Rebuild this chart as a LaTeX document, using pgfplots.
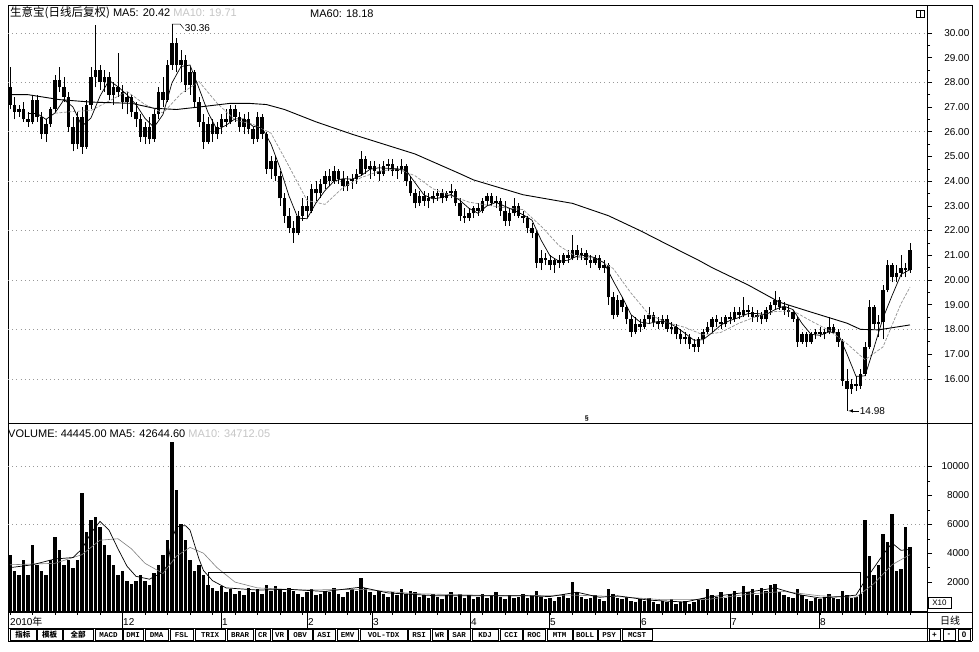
\documentclass[border=0pt]{standalone}
\usepackage{pgfplots}
\pgfplotsset{compat=1.18}
\usepackage{pgfplotstable}
\usepackage{fontspec}
\setmainfont{Liberation Sans}
\newfontfamily\cjk{Noto Sans CJK SC}
\newfontfamily\tabfont{Liberation Mono}

\pgfplotstableread{
i o h l c
0 27.8 28.6 26.9 27.1
1 27.1 27.4 26.5 26.8
2 26.8 27.1 26.6 26.9
3 26.9 27.2 26.4 26.5
4 26.5 26.8 26.2 26.4
5 26.4 27.5 26.3 27.3
6 27.3 27.5 26.4 26.6
7 26.6 26.8 25.7 25.9
8 25.9 26.5 25.6 26.3
9 26.3 27.0 26.2 26.9
10 26.9 28.3 26.8 28.1
11 28.1 28.6 27.6 27.8
12 27.8 28.2 27.2 27.4
13 27.4 27.6 26.0 26.2
14 26.2 26.6 25.2 25.5
15 25.5 26.8 25.3 26.6
16 26.6 27.0 25.1 25.4
17 25.4 27.3 25.3 27.1
18 27.1 28.6 26.9 28.2
19 28.2 30.3 27.8 28.5
20 28.5 28.7 27.7 28.0
21 28.0 28.5 27.6 28.2
22 28.2 28.4 27.3 27.5
23 27.5 28.0 27.1 27.8
24 27.8 29.2 27.4 27.6
25 27.6 27.9 26.9 27.2
26 27.2 27.6 26.7 27.4
27 27.4 27.5 26.6 26.8
28 26.8 27.2 26.2 26.5
29 26.5 26.7 25.6 25.8
30 25.8 26.4 25.5 26.2
31 26.2 26.6 25.5 25.7
32 25.7 26.9 25.6 26.7
33 26.7 27.8 26.5 27.6
34 27.6 28.2 27.0 27.3
35 27.3 28.9 27.2 28.7
36 28.7 30.36 28.5 29.6
37 29.6 29.8 28.4 28.7
38 28.7 29.3 28.0 28.9
39 28.9 29.1 27.6 27.9
40 27.9 28.6 27.5 28.4
41 28.4 28.5 27.0 27.2
42 27.2 27.4 26.2 26.4
43 26.4 26.7 25.3 25.6
44 25.6 26.6 25.5 26.3
45 26.3 26.5 25.6 25.9
46 25.9 26.4 25.7 26.2
47 26.2 26.7 25.9 26.5
48 26.5 26.9 26.2 26.4
49 26.4 27.1 26.3 26.9
50 26.9 27.1 26.4 26.6
51 26.6 26.8 26.0 26.2
52 26.2 26.7 25.9 26.5
53 26.5 26.8 25.9 26.1
54 26.1 26.2 25.5 25.7
55 25.7 26.8 25.6 26.6
56 26.6 26.7 25.7 25.9
57 25.9 26.0 24.3 24.5
58 24.5 25.0 24.1 24.8
59 24.8 25.0 24.0 24.2
60 24.2 24.4 23.0 23.3
61 23.3 23.5 22.3 22.6
62 22.6 22.9 21.9 22.1
63 22.1 22.4 21.5 21.9
64 21.9 22.8 21.8 22.6
65 22.6 23.3 22.4 23.0
66 23.0 23.4 22.5 22.8
67 22.8 23.9 22.7 23.7
68 23.7 24.0 23.2 23.5
69 23.5 24.1 23.3 23.9
70 23.9 24.4 23.7 24.2
71 24.2 24.5 23.8 24.0
72 24.0 24.6 23.9 24.4
73 24.4 24.5 23.9 24.1
74 24.1 24.4 23.6 23.8
75 23.8 24.2 23.6 24.0
76 24.0 24.3 23.7 24.1
77 24.1 24.5 23.9 24.3
78 24.3 25.2 24.2 24.9
79 24.9 25.0 24.3 24.5
80 24.5 24.8 24.1 24.6
81 24.6 24.8 24.2 24.4
82 24.4 24.7 24.0 24.3
83 24.3 24.8 24.2 24.6
84 24.6 24.9 24.4 24.7
85 24.7 24.9 24.2 24.4
86 24.4 24.6 24.1 24.5
87 24.5 24.9 24.3 24.6
88 24.6 24.7 23.8 24.0
89 24.0 24.2 23.4 23.5
90 23.5 23.7 22.9 23.1
91 23.1 23.6 23.0 23.4
92 23.4 23.6 23.0 23.2
93 23.2 23.5 22.9 23.3
94 23.3 23.6 23.1 23.4
95 23.4 23.7 23.2 23.5
96 23.5 23.7 23.1 23.3
97 23.3 23.6 23.2 23.5
98 23.5 23.9 23.3 23.6
99 23.6 23.7 23.0 23.1
100 23.1 23.3 22.4 22.6
101 22.6 22.9 22.3 22.5
102 22.5 22.9 22.4 22.7
103 22.7 23.0 22.5 22.9
104 22.9 23.1 22.6 22.8
105 22.8 23.3 22.7 23.2
106 23.2 23.5 23.0 23.4
107 23.4 23.5 23.0 23.1
108 23.1 23.4 22.9 23.2
109 23.2 23.3 22.6 22.8
110 22.8 23.2 22.2 22.4
111 22.4 22.9 22.2 22.7
112 22.7 23.3 22.6 23.0
113 23.0 23.1 22.5 22.6
114 22.6 22.8 22.3 22.5
115 22.5 22.6 21.9 22.1
116 22.1 22.3 21.7 21.9
117 21.9 22.0 20.5 20.7
118 20.7 21.2 20.4 20.9
119 20.9 21.1 20.6 20.8
120 20.8 21.0 20.4 20.6
121 20.6 20.9 20.3 20.8
122 20.8 21.0 20.5 20.7
123 20.7 21.1 20.6 21.0
124 21.0 21.2 20.7 20.9
125 20.9 21.8 20.8 21.2
126 21.2 21.4 20.8 21.0
127 21.0 21.3 20.8 21.1
128 21.1 21.2 20.6 20.8
129 20.8 21.0 20.5 20.7
130 20.7 21.0 20.6 20.9
131 20.9 21.0 20.4 20.5
132 20.5 20.8 20.3 20.6
133 20.6 20.7 19.0 19.3
134 19.3 19.5 18.4 18.6
135 18.6 19.4 18.5 19.2
136 19.2 19.3 18.7 18.9
137 18.9 19.0 18.2 18.4
138 18.4 18.6 17.7 17.9
139 17.9 18.5 17.8 18.2
140 18.2 18.4 17.9 18.1
141 18.1 18.6 18.0 18.4
142 18.4 18.9 18.2 18.6
143 18.6 18.7 18.1 18.3
144 18.3 18.5 18.0 18.2
145 18.2 18.6 18.1 18.4
146 18.4 18.6 17.9 18.0
147 18.0 18.3 17.8 18.1
148 18.1 18.2 17.6 17.8
149 17.8 18.0 17.4 17.6
150 17.6 17.9 17.4 17.7
151 17.7 17.8 17.2 17.4
152 17.4 17.6 17.1 17.3
153 17.3 17.7 17.1 17.6
154 17.6 18.0 17.4 17.9
155 17.9 18.3 17.8 18.1
156 18.1 18.5 17.9 18.4
157 18.4 18.6 18.1 18.3
158 18.3 18.5 18.0 18.2
159 18.2 18.6 18.1 18.5
160 18.5 18.7 18.2 18.4
161 18.4 18.9 18.3 18.7
162 18.7 18.9 18.4 18.6
163 18.6 19.3 18.5 18.8
164 18.8 19.0 18.5 18.7
165 18.7 18.9 18.3 18.5
166 18.5 18.8 18.3 18.6
167 18.6 18.7 18.2 18.4
168 18.4 18.9 18.3 18.8
169 18.8 19.1 18.6 19.0
170 19.0 19.55 18.8 19.2
171 19.2 19.3 18.8 18.9
172 18.9 19.1 18.6 18.8
173 18.8 19.0 18.5 18.7
174 18.7 18.8 18.3 18.4
175 18.4 18.5 17.3 17.5
176 17.5 17.9 17.4 17.8
177 17.8 17.9 17.3 17.5
178 17.5 17.9 17.4 17.8
179 17.8 18.0 17.6 17.9
180 17.9 18.1 17.7 17.8
181 17.8 18.0 17.6 17.9
182 17.9 18.5 17.8 18.1
183 18.1 18.2 17.8 17.9
184 17.9 18.0 17.3 17.5
185 17.5 17.6 15.7 15.9
186 15.9 16.4 14.98 15.6
187 15.6 16.0 15.4 15.8
188 15.8 16.1 15.5 15.7
189 15.7 16.4 15.6 16.2
190 16.2 17.5 16.1 17.3
191 17.3 19.2 17.2 18.9
192 18.9 19.0 18.0 18.2
193 18.2 18.6 17.7 18.3
194 18.3 19.8 17.6 19.6
195 19.6 20.8 19.5 20.6
196 20.6 20.7 19.9 20.1
197 20.1 20.6 19.9 20.3
198 20.3 21.0 20.1 20.5
199 20.5 20.7 20.1 20.4
200 20.4 21.5 20.3 21.2
}\price

\pgfplotstableread{
i v
0 3900
1 2800
2 2500
3 3500
4 2500
5 4600
6 3200
7 2800
8 2500
9 3500
10 5100
11 4200
12 3200
13 3500
14 3000
15 3500
16 8200
17 5500
18 6300
19 6500
20 5800
21 4600
22 3900
23 3200
24 2500
25 2800
26 2100
27 1900
28 2100
29 2500
30 2100
31 1800
32 2600
33 3200
34 3900
35 4900
36 11700
37 8400
38 6000
39 4900
40 3500
41 2800
42 3200
43 2500
44 1800
45 1600
46 1400
47 1700
48 1300
49 1500
50 1200
51 1400
52 1100
53 1600
54 1300
55 1500
56 1200
57 1800
58 1400
59 1700
60 1500
61 1300
62 1600
63 1400
64 1200
65 1000
66 1300
67 1500
68 1100
69 1200
70 1400
71 1300
72 1600
73 1200
74 1000
75 1300
76 1500
77 1400
78 2300
79 1600
80 1300
81 1100
82 1400
83 1200
84 1000
85 1300
86 1100
87 1500
88 1200
89 1400
90 1300
91 1000
92 1100
93 900
94 1200
95 1000
96 800
97 1100
98 1300
99 1000
100 1200
101 900
102 1100
103 800
104 1000
105 1200
106 900
107 1100
108 1300
109 1000
110 800
111 1100
112 900
113 1000
114 1200
115 900
116 1100
117 1400
118 1000
119 800
120 900
121 700
122 1000
123 1200
124 900
125 2000
126 1300
127 1000
128 800
129 900
130 1100
131 800
132 700
133 1500
134 1200
135 900
136 800
137 1000
138 700
139 600
140 800
141 700
142 900
143 600
144 500
145 700
146 600
147 800
148 500
149 600
150 700
151 500
152 600
153 800
154 900
155 1500
156 1100
157 1000
158 1300
159 900
160 1200
161 1400
162 1000
163 1700
164 1300
165 1500
166 1100
167 1600
168 1400
169 1800
170 1900
171 1300
172 1100
173 1000
174 900
175 1500
176 1100
177 800
178 700
179 900
180 800
181 1000
182 1200
183 900
184 800
185 1400
186 1100
187 900
188 1000
189 1200
190 6300
191 3800
192 2500
193 3200
194 5300
195 4800
196 6700
197 2800
198 2900
199 5800
200 4444.5
}\vol

\pgfplotsset{
  panel/.style={
    scale only axis, width=919pt,
    xmin=-0.444, xmax=203.78, xtick=\empty,
    ytick pos=right, yticklabel pos=right,
    minor y tick num=1, tick align=outside,
    major tick length=5pt, minor tick length=3pt,
    tick style={black, line width=0.5pt},
    yticklabel style={font=\fontsize{10}{12}\selectfont, anchor=east, inner sep=0pt, xshift=37.5pt},
    major grid style={gray!80, line width=0.5pt, dash pattern=on 0.7pt off 3.5pt},
    axis line style={black, line width=0.7pt},
  }
}

\begin{document}
\begin{tikzpicture}
\useasboundingbox (0pt,0pt) rectangle (979pt,651pt);
\fill[white] (0pt,0pt) rectangle (979pt,651pt);

% ---------------- price panel ----------------
\begin{axis}[panel,
  at={(8pt,228pt)}, anchor=south west, height=418pt,
  ymin=14.21, ymax=31.13,
  ytick={16,17,...,30},
  yticklabel={\pgfmathprintnumber[fixed,fixed zerofill,precision=2,assume math mode=true]{\tick}},
  extra y ticks={16,18,...,30}, extra y tick labels={},
  extra y tick style={grid=major, major tick length=0pt},
]
\addplot[draw=none, mark=none, forget plot,
  error bars/.cd, y dir=plus, y explicit, error mark=none,
  error bar style={line width=0.9pt, draw=black, solid}]
  table[x=i, y=l, y error expr=\thisrow{h}-\thisrow{l}] {\price};
\addplot[draw=none, mark=none, forget plot,
  error bars/.cd, y dir=plus, y explicit, error mark=none,
  error bar style={line width=3.3pt, draw=black, solid}]
  table[x=i, y expr={min(\thisrow{o},\thisrow{c})}, y error expr={max(abs(\thisrow{c}-\thisrow{o}),0.07)}] {\price};
% MA10
\addplot[gray!85, line width=0.7pt, dash pattern=on 3pt off 1.5pt] coordinates {
(10,26.75)(14,26.82)(18,26.86)(22,27.24)(26,27.63)(30,27.1)(34,26.76)(38,27.54)(42,28.03)(46,27.16)(50,26.47)(54,26.3)(58,25.94)(62,24.6)(66,23.22)(70,23.06)(74,23.74)(78,24.14)(82,24.4)(86,24.5)(90,24.22)(94,23.69)(98,23.41)(102,23.15)(106,23.03)(110,22.92)(114,22.85)(118,22.18)(122,21.39)(126,20.92)(130,20.89)(134,20.47)(138,19.47)(142,18.6)(146,18.28)(150,18.08)(154,17.78)(158,17.88)(162,18.25)(166,18.53)(170,18.72)(174,18.75)(178,18.34)(182,17.96)(186,17.42)(190,16.77)(194,17.29)(198,19.04)(200,19.71)};
% MA5
\addplot[black, line width=0.7pt] coordinates {
(4,26.74)(6,26.74)(8,26.5)(10,26.76)(12,27.3)(14,27.0)(16,26.22)(18,26.56)(20,27.44)(22,28.08)(24,27.82)(26,27.5)(28,27.1)(30,26.54)(32,26.18)(34,26.7)(36,27.98)(38,28.64)(40,28.7)(42,27.76)(44,26.78)(46,26.08)(48,26.26)(50,26.52)(52,26.52)(54,26.22)(56,26.16)(58,25.5)(60,24.54)(62,23.4)(64,22.5)(66,22.48)(68,23.12)(70,23.62)(72,24.0)(74,24.1)(76,24.08)(78,24.22)(80,24.48)(82,24.54)(84,24.52)(86,24.5)(88,24.44)(90,23.94)(92,23.44)(94,23.28)(96,23.34)(98,23.46)(100,23.22)(102,22.9)(104,22.7)(106,23.0)(108,23.14)(110,22.98)(112,22.82)(114,22.64)(116,22.42)(118,21.62)(120,20.98)(122,20.76)(124,20.8)(126,20.96)(128,21.0)(130,20.9)(132,20.7)(134,19.98)(136,19.32)(138,18.6)(140,18.3)(142,18.24)(144,18.32)(146,18.3)(148,18.1)(150,17.84)(152,17.56)(154,17.58)(156,17.86)(158,18.18)(160,18.36)(162,18.48)(164,18.64)(166,18.64)(168,18.6)(170,18.8)(172,18.94)(174,18.8)(176,18.24)(178,17.8)(180,17.76)(182,17.9)(184,17.84)(186,17.0)(188,16.1)(190,16.12)(192,17.26)(194,18.46)(196,19.36)(198,20.22)(200,20.42)};
% MA60
\addplot[black, line width=0.9pt] coordinates {
(0,27.5)(4,27.5)(11,27.3)(18,27.2)(27,27.15)(32,26.95)(37,26.9)(42,27.0)(49,27.15)(53,27.15)(57,27.1)(61,26.9)(68,26.4)(76,25.9)(83,25.5)(90,25.1)(100,24.3)(103,24.05)(114,23.45)(125,23.1)(133,22.6)(140,22.0)(147,21.35)(153,20.8)(156,20.5)(164,19.8)(171,19.1)(178,18.7)(186,18.25)(189,18.0)(193,17.98)(200,18.18)};
% annotations
\draw[line width=0.5pt] (axis cs:36,30.36) -- (axis cs:37.8,30.36) -- (axis cs:38.6,30.18)
  node[anchor=west, inner sep=1pt, font=\fontsize{10}{12}\selectfont] {30.36};
\draw[line width=0.6pt] (axis cs:186,14.98) -- (axis cs:186,14.70);
\draw[line width=0.6pt, -latex] (axis cs:188.6,14.70) -- (axis cs:186.3,14.70);
\node[anchor=west, inner sep=1pt, font=\fontsize{10}{12}\selectfont] at (axis cs:188.6,14.70) {14.98};
\node[inner sep=0pt, font=\fontsize{7}{8}\selectfont\bfseries] at (axis cs:128.2,14.4) {§};
\end{axis}

% ---------------- volume panel ----------------
\begin{axis}[panel,
  at={(8pt,40pt)}, anchor=south west, height=188pt,
  ymin=0, ymax=13010,
  ytick={2000,4000,...,10000},
  scaled y ticks=false,
  yticklabel={\pgfmathprintnumber[fixed,precision=0,set thousands separator={},assume math mode=true]{\tick}},
  extra y ticks={6000,10000}, extra y tick labels={},
  extra y tick style={grid=major, major tick length=0pt},
]
\addplot[ycomb, black, line width=3.2pt, mark=none, forget plot] table[x=i, y=v] {\vol};
% volume MA10
\addplot[gray, line width=0.6pt] coordinates {
(0,3200)(10,3300)(16,3900)(20,4900)(24,5000)(27,4300)(30,3300)(34,2600)(37,3800)(40,4400)(43,4000)(46,3000)(50,2000)(55,1600)(65,1450)(78,1500)(90,1200)(110,1050)(125,1100)(135,1000)(145,780)(155,800)(165,1200)(172,1350)(180,1050)(188,950)(192,1900)(196,3200)(200,3900)};
% volume MA5
\addplot[black, line width=0.7pt] coordinates {
(0,3000)(5,3200)(10,3600)(14,3700)(16,4300)(18,5400)(20,6200)(22,5600)(24,4300)(26,3100)(28,2400)(31,2200)(34,2700)(35,3200)(36,5000)(37,5800)(38,5900)(39,5900)(40,5600)(41,4600)(42,3600)(43,2800)(45,2100)(48,1600)(55,1450)(62,1500)(70,1350)(78,1650)(84,1250)(95,1050)(105,1050)(115,1050)(120,1000)(126,1300)(131,950)(135,1050)(142,750)(150,620)(155,950)(160,1150)(165,1350)(170,1600)(175,1150)(180,900)(185,1000)(188,1100)(190,2100)(192,3000)(194,3900)(196,4700)(198,4200)(200,4264)};
\draw[line width=0.6pt] (axis cs:44,0) -- (axis cs:44,2650) -- (axis cs:189,2650) -- (axis cs:189,0);
\end{axis}

% ---------------- frame and decorations ----------------
\draw[line width=0.7pt] (927pt,646pt) -- (972pt,646pt) -- (972pt,10pt);
\draw[line width=0.7pt] (927pt,228pt) -- (972pt,228pt);
\draw[line width=0.7pt] (8pt,39pt) -- (972pt,39pt);
\draw[line width=0.7pt] (8pt,23pt) -- (972pt,23pt);
\draw[line width=0.7pt] (8pt,39pt) -- (8pt,10pt) -- (972pt,10pt);
\draw[line width=0.7pt] (927pt,39pt) -- (927pt,10pt);

% titles
\node[anchor=base west, inner sep=0pt, font=\fontsize{11}{13}\selectfont] at (10pt,634pt)
  {{\cjk\fontsize{11.5}{13}\selectfont 生意宝(日线后复权)} MA5: 20.42 \textcolor{gray!45}{MA10: 19.71}};
\node[anchor=base west, inner sep=0pt, font=\fontsize{11}{13}\selectfont] at (310pt,633pt) {MA60: 18.18};
\draw[line width=0.7pt] (916pt,641pt) rectangle (924pt,634pt);
\draw[line width=0.5pt] (920pt,641pt) -- (920pt,634pt);
\node[anchor=base west, inner sep=0pt, font=\fontsize{11}{13}\selectfont] at (8pt,214pt)
  {VOLUME: 44445.00 MA5: 42644.60 \textcolor{gray!45}{MA10: 34712.05}};

% X10 box
\draw[line width=0.5pt] (928pt,54pt) rectangle (951pt,43pt);
\node[font=\fontsize{8}{9}\selectfont, inner sep=0pt] at (939.5pt,48.5pt) {X10};

% date row
\node[anchor=base west, inner sep=0pt, font=\fontsize{10}{12}\selectfont] at (10pt,26pt) {2010{\cjk 年}};
\foreach \xx/\mm in {122/12,221/1,307/2,372/3,470/4,549/5,640/6,730/7,819/8} {
  \draw[line width=0.6pt] (\xx pt,39pt) -- (\xx pt,23pt);
  \node[anchor=base west, inner sep=0pt, font=\fontsize{10}{12}\selectfont] at (\xx pt+1pt,26pt) {\mm};
}
\foreach \k in {0,...,40} {
  \draw[line width=0.5pt] ({(10+22.5*\k)*1pt},39pt) -- ++(0pt,-2.5pt);
}
\node[font=\fontsize{10}{12}\selectfont\cjk, inner sep=0pt] at (950pt,30.5pt) {日线};

% tab row
\foreach \a/\b/\t in {10/36/{\cjk 指标},37/62/{\cjk 模板},63/93/{\cjk 全部},95/122/MACD,123/143/DMI,145/168/DMA,170/193/FSL,195/225/TRIX,227/253/BRAR,255/270/CR,272/287/VR,288/312/OBV,313/335/ASI,337/358/EMV,360/407/VOL-TDX,408/430/RSI,432/447/WR,448/470/SAR,472/498/KDJ,500/522/CCI,523/545/ROC,547/572/MTM,573/597/BOLL,598/620/PSY,622/652/MCST} {
  \draw[line width=0.6pt] (\a pt,21.5pt) rectangle (\b pt,10.5pt);
  \node[inner sep=0pt, font=\fontsize{7.5}{8}\selectfont\tabfont\bfseries] at ({(\a+\b)/2*1pt},16pt) {\t};
}
\foreach \a/\b/\t in {929/940/+,943/955/-,958/970/0} {
  \draw[line width=0.6pt] (\a pt,21.5pt) rectangle (\b pt,10.5pt);
  \node[inner sep=0pt, font=\fontsize{8}{9}\selectfont\bfseries] at ({(\a+\b)/2*1pt},16pt) {\t};
}
\end{tikzpicture}
\end{document}
